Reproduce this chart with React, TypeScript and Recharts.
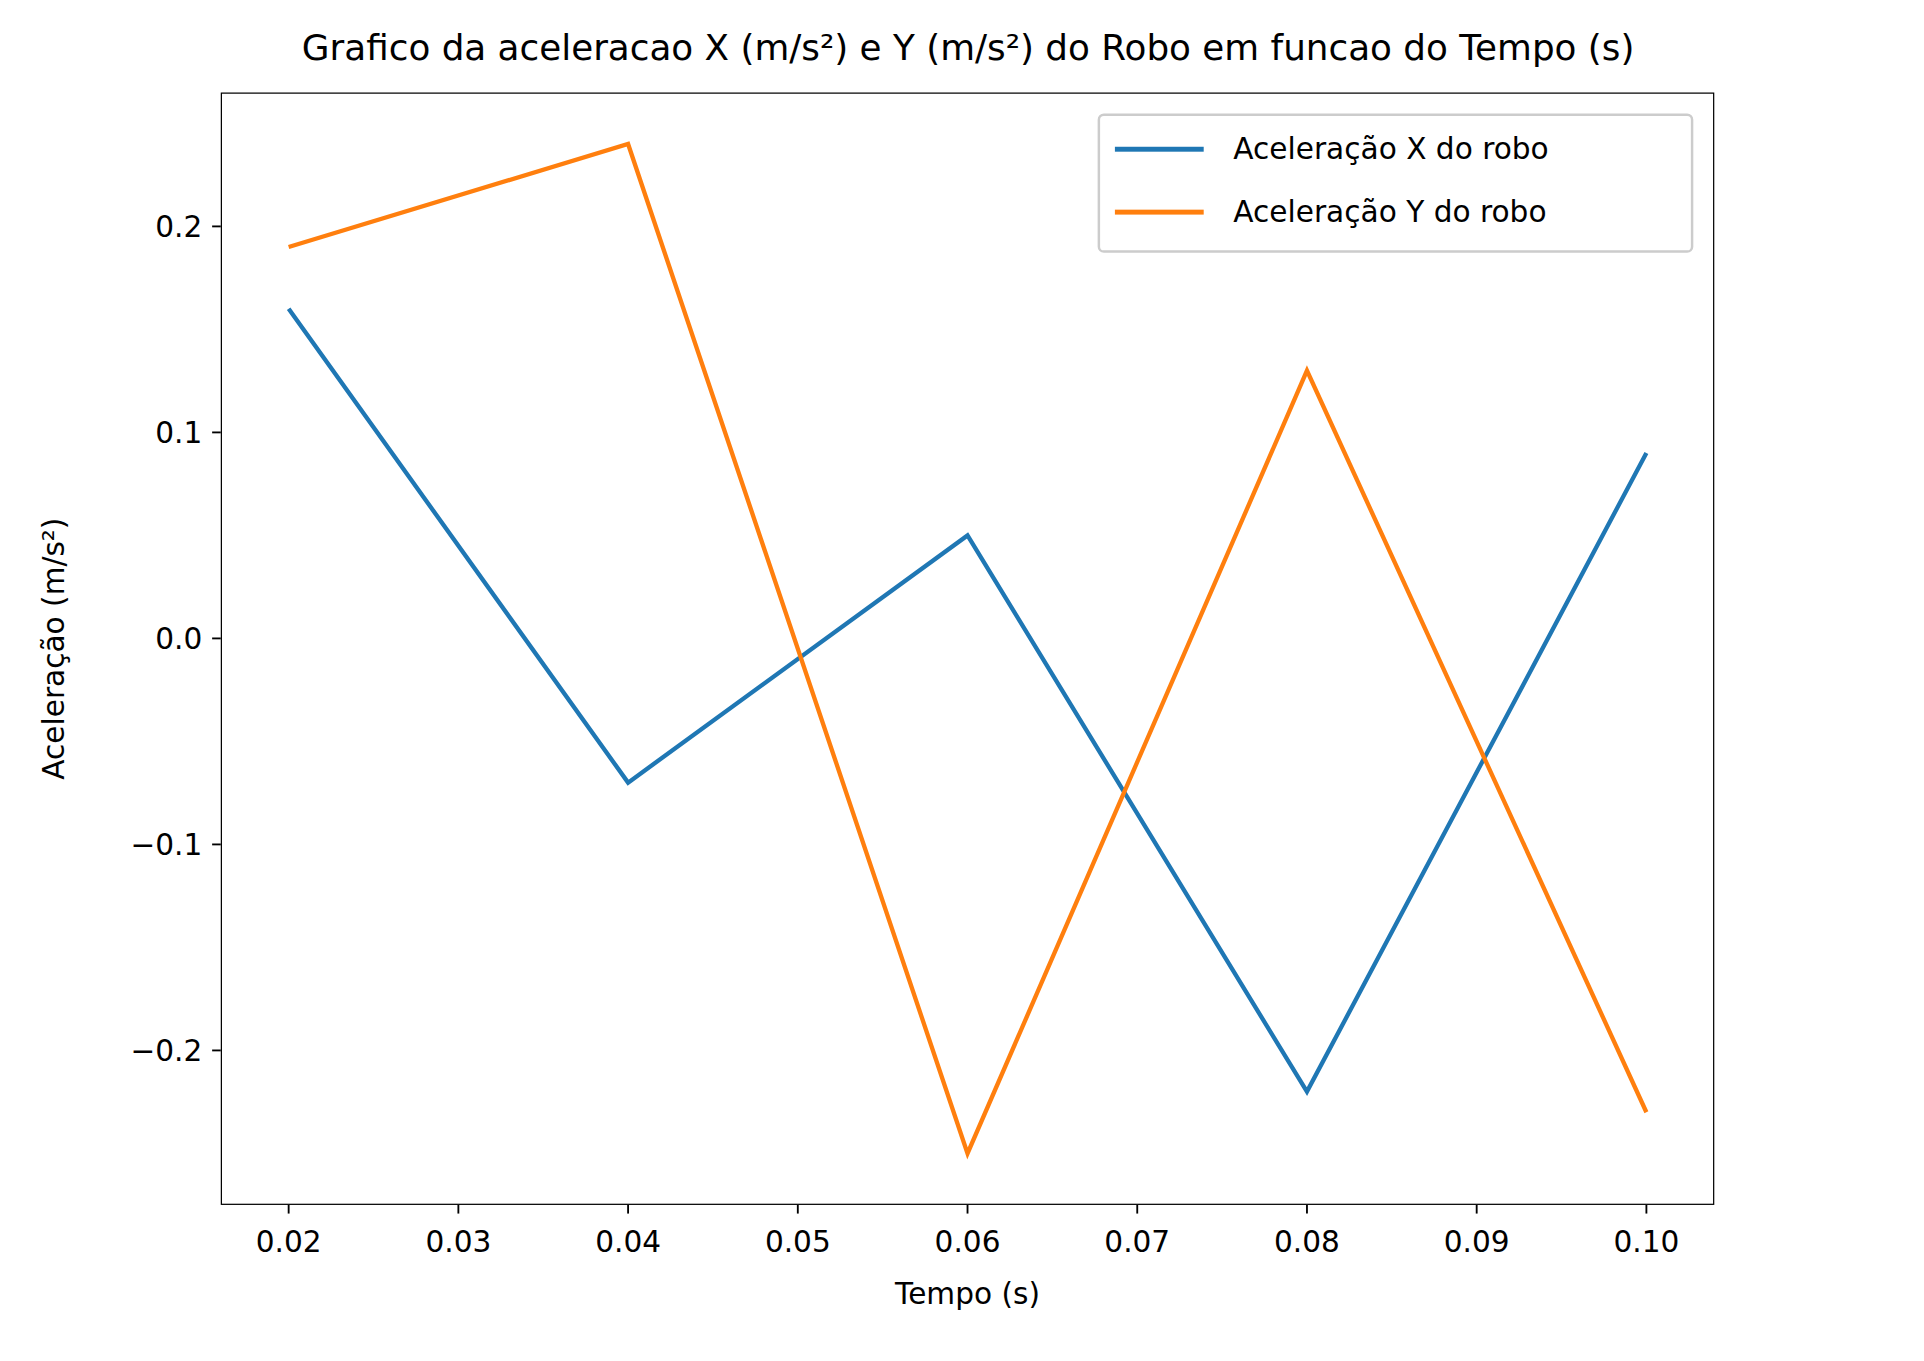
import { LineChart, Line, XAxis, YAxis, Label } from "recharts";

const tempo = [0.02, 0.04, 0.06, 0.08, 0.1];
const accelX = [0.16, -0.07, 0.05, -0.22, 0.09];
const accelY = [0.19, 0.24, -0.25, 0.13, -0.23];
const xTicks = [0.02, 0.03, 0.04, 0.05, 0.06, 0.07, 0.08, 0.09, 0.1];
const yTicks = [-0.2, -0.1, 0, 0.1, 0.2];

const data = tempo.map((t, i) => ({ t, ax: accelX[i], ay: accelY[i] }));

const font = "DejaVu Sans, sans-serif";
const fmtY = (v: number) => (v < 0 ? "\u2212" : "") + Math.abs(v).toFixed(1);

const App = () => {
  return (
    <div style={{ position: "absolute", left: 0, top: 0, width: 1560, height: 1100, background: "#fff", fontFamily: font, transform: "scale(1.2333)", transformOrigin: "0 0" }}>
      <div style={{ position: "absolute", left: 0, width: 1570, top: 22, textAlign: "center", fontSize: 29 }}>
        Grafico da aceleracao X (m/s²) e Y (m/s²) do Robo em funcao do Tempo (s)
      </div>
      <LineChart width={1560} height={1100} data={data} margin={{ top: 75, left: 79, right: 170, bottom: 43 }}>
        <XAxis
          dataKey="t"
          type="number"
          domain={[0.016, 0.104]}
          ticks={xTicks}
          tickFormatter={(v: number) => v.toFixed(2)}
          axisLine={false}
          tickSize={7}
          tickLine={{ stroke: "#000", strokeWidth: 1.5 }}
          tick={{ fill: "#000", fontSize: 24, fontFamily: font }}
          tickMargin={14}
          height={80}
        >
          <Label value="Tempo (s)" position="insideBottom" offset={0} style={{ fill: "#000", fontSize: 24, fontFamily: font }} />
        </XAxis>
        <YAxis
          type="number"
          domain={[-0.275, 0.265]}
          ticks={yTicks}
          tickFormatter={fmtY}
          axisLine={false}
          tickSize={7}
          tickLine={{ stroke: "#000", strokeWidth: 1.5 }}
          tick={{ fill: "#000", fontSize: 24, fontFamily: font }}
          tickMargin={8}
          width={100}
        >
          <Label value="Aceleração (m/s²)" angle={-90} position="insideLeft" offset={-36} style={{ fill: "#000", fontSize: 24, fontFamily: font, textAnchor: "middle" }} />
        </YAxis>
        <Line dataKey="ax" stroke="#1f77b4" strokeWidth={3.5} dot={false} isAnimationActive={false} />
        <Line dataKey="ay" stroke="#ff7f0e" strokeWidth={3.5} dot={false} isAnimationActive={false} />
      </LineChart>
      <div style={{ position: "absolute", left: 179, top: 75, width: 1211, height: 902, border: "1.5px solid #000", boxSizing: "border-box", pointerEvents: "none" }} />
      <div style={{ position: "absolute", left: 890, top: 92, width: 483, height: 113, border: "2px solid #ccc", borderRadius: 5, boxSizing: "border-box", fontSize: 24 }}>
        {[
          { c: "#1f77b4", t: "Aceleração X do robo" },
          { c: "#ff7f0e", t: "Aceleração Y do robo" },
        ].map((e, i) => (
          <div key={i} style={{ position: "absolute", left: 12, top: 12 + i * 51, display: "flex", alignItems: "center", height: 30 }}>
            <span style={{ display: "inline-block", width: 72, height: 3.5, background: e.c, marginRight: 24 }} />
            <span>{e.t}</span>
          </div>
        ))}
      </div>
    </div>
  );
};

export default App;
